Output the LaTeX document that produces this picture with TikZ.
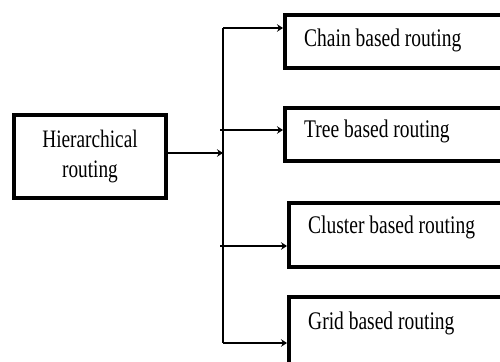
\documentclass[tikz,border=0pt]{standalone}
\usepackage{fontspec}
\setmainfont{Liberation Serif}
\usetikzlibrary{arrows.meta,calc}
\tikzset{
  boxstyle/.style={draw=black, line width=4pt, fill=white, inner sep=0pt},
  conn/.style={draw=black, line width=1.3pt},
  arr/.style={conn, -{Stealth[length=6pt,width=7.5pt,inset=2pt]}},
  lbl/.style={inner sep=0pt, anchor=base west, font=\fontsize{19.5}{23}\selectfont}
}
\newcommand{\stretchtxt}[1]{\scalebox{1}[1.3]{#1}}
\begin{document}
\begin{tikzpicture}[x=1pt,y=1pt]
\useasboundingbox (0,0) rectangle (500,361);
\clip (0,0) rectangle (500,361);
\fill[white] (0,0) rectangle (500,361);

% boxes
\node[boxstyle, minimum width=152pt, minimum height=83pt,
      font=\fontsize{19.3}{23}\selectfont] (h) at (90,204.5)
  {\stretchtxt{\begin{tabular}{@{}c@{}}Hierarchical\\routing\end{tabular}}};
\node[boxstyle, minimum width=225pt, minimum height=53pt] (c1) at (397.5,319.5) {};
\node[boxstyle, minimum width=225pt, minimum height=53pt] (c2) at (397.5,226.5) {};
\node[boxstyle, minimum width=221pt, minimum height=64pt] (c3) at (399.5,126) {};
\node[boxstyle, minimum width=221pt, minimum height=78pt] (c4) at (399.5,25) {};

% labels
\node[lbl] (t1) at ($(c1.north west)+(21,-34)$) {\stretchtxt{Chain based routing}};
\node[lbl] (t2) at ($(c2.north west)+(21,-32)$) {\stretchtxt{Tree based routing}};
\node[lbl] (t3) at ($(c3.north west)+(21,-33)$) {\stretchtxt{Cluster based routing}};
\node[lbl] (t4) at ($(c4.north west)+(21,-35)$) {\stretchtxt{Grid based routing}};

% connector coordinates
\coordinate (j) at (223,208);
\coordinate (top) at (223,333);
\coordinate (bot) at (223,18);
\coordinate (p2) at (220,231);
\coordinate (p3) at (220,115);

% connectors
\draw[arr] (h.east |- j) -- (j);
\draw[conn] (bot) -- (top);
\draw[arr] (top) -- (c1.west |- top);
\draw[arr] (p2) -- (c2.west |- p2);
\draw[arr] (p3) -- (c3.west |- p3);
\draw[arr] (bot) -- (c4.west |- bot);
\end{tikzpicture}
\end{document}
